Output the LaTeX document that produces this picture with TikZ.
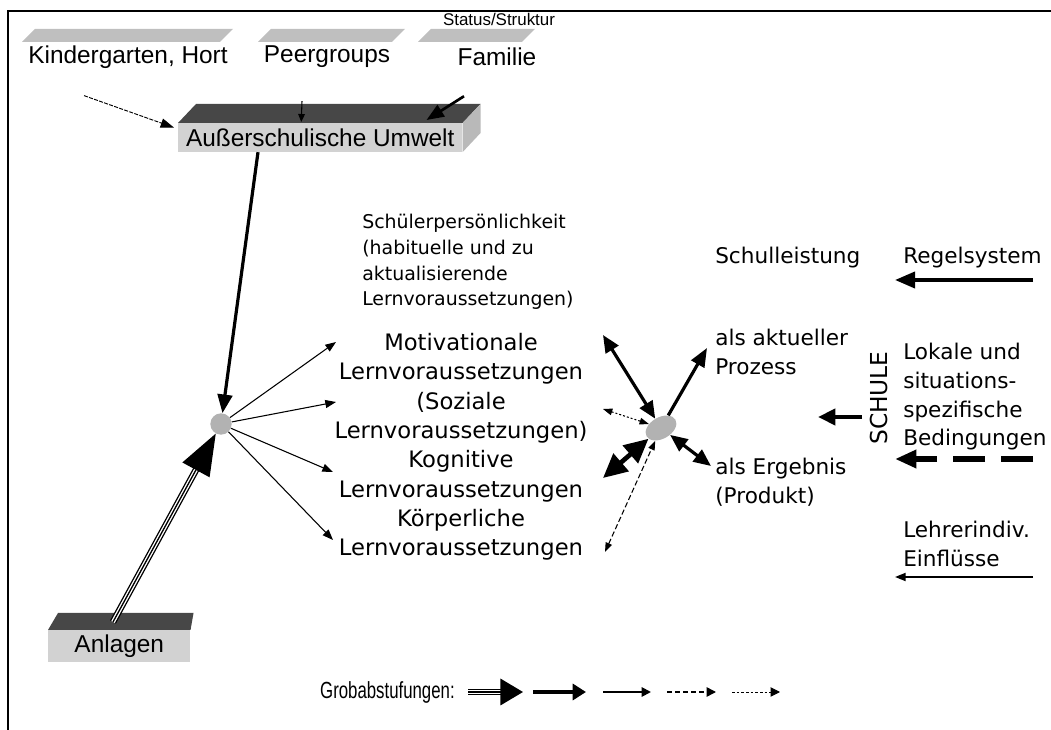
\documentclass[tikz,border=0pt]{standalone}
\usepackage{fontspec}
\setmainfont{Liberation Sans}
\newfontfamily\wide{DejaVu Sans}
\usetikzlibrary{arrows.meta,calc,shapes.geometric}
\tikzset{
  lbl/.style={inner sep=0pt, font=\fontsize{18.3}{20}\selectfont},
  wtxt/.style={inner sep=0pt, align=left, font=\wide\fontsize{16.2}{21.5}\selectfont},
  bar/.style={fill=gray!50, draw=none},
  darkface/.style={fill=black!72, draw=none},
  frontface/.style={fill=gray!35, draw=none},
  hubnode/.style={circle, fill=gray!60, inner sep=0pt, minimum size=16pt},
  thinarr/.style={line width=0.8pt, -{Triangle[length=8pt,width=6pt]}},
  thickarr/.style={line width=2.4pt, -{Triangle[length=14pt,width=11pt]}},
  dthick/.style={line width=2.4pt, {Triangle[length=13pt,width=11pt]}-{Triangle[length=13pt,width=11pt]}},
  dthin/.style={line width=0.8pt, {Triangle[length=7pt,width=5pt]}-{Triangle[length=7pt,width=5pt]}},
}
\begin{document}
\begin{tikzpicture}[x=0.75pt,y=-0.75pt]
\useasboundingbox (0,0) rectangle (1051,730);
% frame
\draw[line width=1.2pt] (8,730) -- (8,11) -- (1051,11);

% top bars
\path[bar] (22,42) -- (220,42) -- (233,29) -- (35,29) -- cycle;
\path[bar] (258,42) -- (392,42) -- (405,29) -- (271,29) -- cycle;
\path[bar] (418,42) -- (522,42) -- (535,29) -- (431,29) -- cycle;
\node[inner sep=0pt, font=\fontsize{12.7}{14}\selectfont] (status) at (499,19) {Status/Struktur};

\node[lbl] (kg) at (128,57) {Kindergarten, Hort};
\node[lbl] (peer) at (327,57) {Peergroups};
\node[lbl] (fam) at (497,57) {Familie};

% Umwelt box
\node[frontface, lbl, minimum width=213pt, minimum height=21.5pt, anchor=north west] (umwelt) at (178,123) {Außerschulische Umwelt};
\path[darkface] (umwelt.north west) -- (umwelt.north east) -- ++(18,-19) -- ($(umwelt.north west)+(18,-19)$) -- cycle;
\path[fill=gray!55] (umwelt.north east) -- ++(18,-19) -- ++(0,29) -- (umwelt.south east) -- cycle;

% Anlagen box
\node[frontface, lbl, minimum width=106.5pt, minimum height=24pt, anchor=north west] (anl) at (48,630) {Anlagen};
\path[darkface] (anl.north west) -- (anl.north east) -- ++(3,-17) -- ($(anl.north west)+(10,-17)$) -- cycle;
\coordinate (anltop) at ($(anl.north west)+(65,-8)$);

% hubs
\node[hubnode] (hubA) at (221,424) {};
\node[hubnode, ellipse, minimum width=25pt, minimum height=16pt, rotate=30] (hubB) at (661,428) {};

% top arrows
\draw[line width=0.7pt, dashed, dash pattern=on 3pt off 1pt, -{Triangle[length=10pt,width=7pt]}] ($(kg.south west)+(56,27)$) -- ($(umwelt.west)+(-4,-10)$);
\draw[line width=0.8pt, -{Triangle[length=6pt,width=5pt]}] ($(peer.south)+(-25,33)$) -- ($(umwelt.north)+(-19,-1)$);
\draw[line width=2pt, -{Triangle[length=13pt,width=10pt]}] ($(fam.south)+(-33,30)$) -- ($(umwelt.north east)+(-36,-3)$);

% Umwelt -> hub A
\draw[thickarr] ($(umwelt.south west)+(80,0)$) -- (hubA);
% Anlagen -> hub A (triple line)
\draw[line width=1pt, double distance=3pt, shorten >=28pt] (anltop) -- (hubA);
\draw[line width=1pt, -{Triangle[length=31pt,width=23pt]}] (anltop) -- (hubA);

% Schuelerpersoenlichkeit
\node[wtxt, font=\wide\fontsize{14.2}{19.3}\selectfont, anchor=north west] (sp) at (362,214)
  {Schülerpersönlichkeit\\(habituelle und zu\\aktualisierende\\Lernvoraussetzungen)};

\node[inner sep=0pt, align=center, font=\wide\fontsize{17}{22}\selectfont, anchor=north] (lv) at (461,333)
  {Motivationale\\Lernvoraussetzungen\\(Soziale\\Lernvoraussetzungen)\\Kognitive\\Lernvoraussetzungen\\Körperliche\\Lernvoraussetzungen};

\coordinate (t1) at (336,342);
\coordinate (t2) at (336,402);
\coordinate (t3) at (333,472);
\coordinate (t4) at (333,540);
\foreach \t in {t1,t2,t3,t4} \draw[thinarr] (hubA) -- (\t);

% hub B arrows
\coordinate (b1) at (603,335);
\coordinate (b2) at (707,348);
\coordinate (b3) at (603,409);
\coordinate (b4) at (603,478);
\coordinate (b5) at (605,552);
\coordinate (b6) at (711,466);
\draw[dthick] (b1) -- (hubB);
\draw[thickarr] (hubB) -- (b2);
\draw[dthin, dash pattern=on 1.5pt off 1.5pt] (b3) -- (hubB);
\draw[line width=3.5pt, {Triangle[length=18pt,width=17pt]}-{Triangle[length=18pt,width=17pt]}] (b4) -- (hubB);
\draw[dthin, dash pattern=on 4pt off 2pt] (b5) -- (hubB);
\draw[dthick] (hubB) -- (b6);

% right texts
\node[wtxt, anchor=west] (leist) at (715,258) {Schulleistung};
\node[wtxt, anchor=west] (regel) at (903,258) {Regelsystem};
\node[wtxt, anchor=north west] (proz) at (715,329) {als aktueller\\Prozess};
\node[wtxt, anchor=north west] (erg) at (715,458) {als Ergebnis\\(Produkt)};
\node[wtxt, anchor=north west] (lok) at (903,343) {Lokale und\\situations-\\spezifische\\Bedingungen};
\node[wtxt, anchor=north west] (lehr) at (903,521) {Lehrerindiv.\\Einflüsse};
\node[inner sep=0pt, font=\wide\fontsize{17.5}{19}\selectfont, rotate=90] (schule) at (879,398) {SCHULE};

\coordinate (r1) at (1033,280);
\coordinate (r2) at (895,280);
\draw[line width=2.8pt, -{Triangle[length=15pt,width=12pt]}] (r1) -- (r2);
\coordinate (s1) at (862,417);
\coordinate (s2) at (818,417);
\draw[line width=2.8pt, -{Triangle[length=13pt,width=12pt]}] (s1) -- (s2);
\coordinate (l1) at (1033,459);
\coordinate (l2) at (895,459);
\draw[line width=4pt, dash pattern=on 24pt off 12pt, -{Triangle[length=16pt,width=13pt]}] (l1) -- (l2);
\coordinate (e1) at (1033,577);
\coordinate (e2) at (895,577);
\draw[line width=1.4pt, -{Triangle[length=8pt,width=6pt]}] (e1) -- (e2);

% legend
\node[inner sep=0pt, anchor=west, font=\fontsize{17.5}{19}\selectfont, xscale=0.72] (grob) at (320,692) {Grobabstufungen:};
\coordinate (g1a) at (468,692); \coordinate (g1b) at (523,692);
\draw[line width=1pt, double distance=2.5pt, shorten >=14pt] (g1a) -- (g1b);
\draw[line width=1pt, -{Triangle[length=17pt,width=20pt]}] (g1a) -- (g1b);
\coordinate (g2a) at (533,692); \coordinate (g2b) at (586,692);
\draw[line width=2.6pt, -{Triangle[length=10pt,width=12pt]}] (g2a) -- (g2b);
\coordinate (g3a) at (603,692); \coordinate (g3b) at (651,692);
\draw[line width=1.4pt, -{Triangle[length=7pt,width=7pt]}] (g3a) -- (g3b);
\coordinate (g4a) at (667,692); \coordinate (g4b) at (716,692);
\draw[line width=1.1pt, dash pattern=on 4pt off 2pt, -{Triangle[length=7pt,width=7pt]}] (g4a) -- (g4b);
\coordinate (g5a) at (732,692); \coordinate (g5b) at (780,692);
\draw[line width=0.7pt, dash pattern=on 2pt off 1.5pt, -{Triangle[length=7pt,width=7pt]}] (g5a) -- (g5b);
\end{tikzpicture}
\end{document}
